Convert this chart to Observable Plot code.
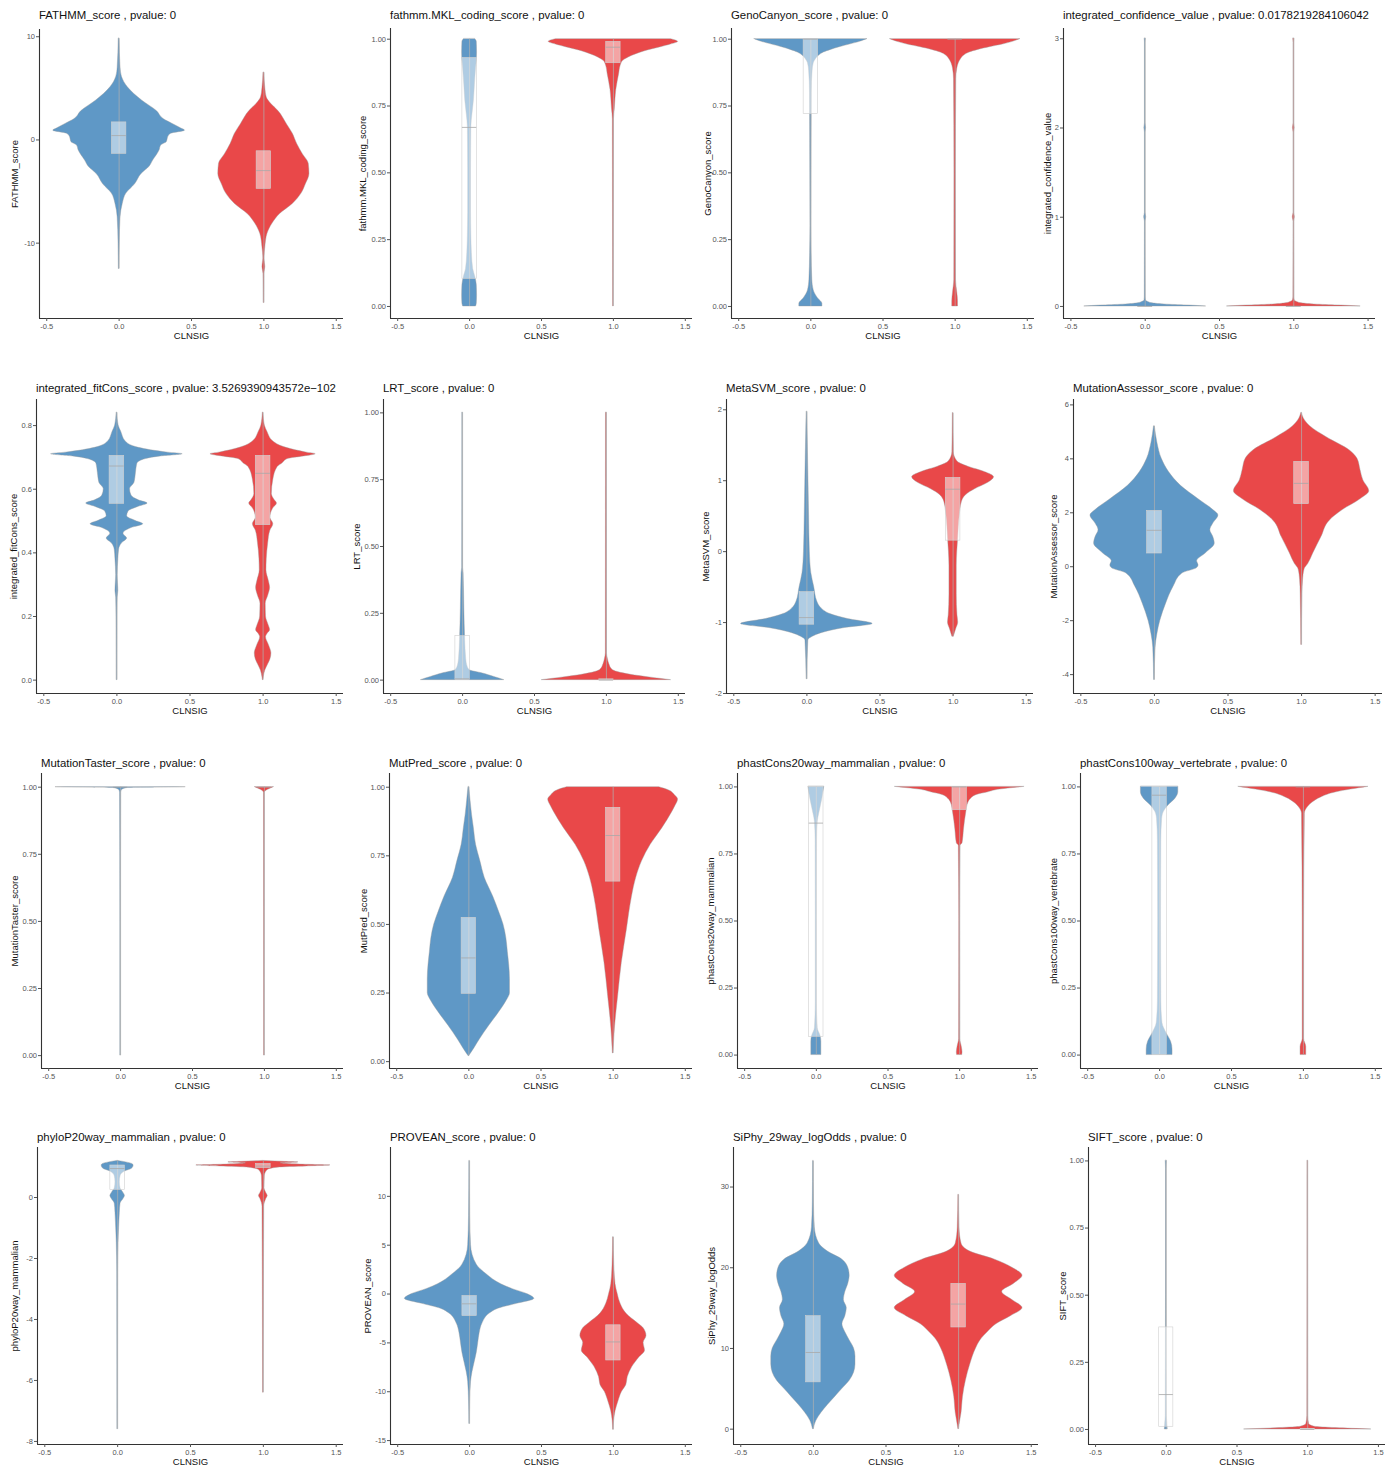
<!DOCTYPE html>
<html><head><meta charset="utf-8">
<script src="https://cdn.jsdelivr.net/npm/d3@7"></script>
<script src="https://cdn.jsdelivr.net/npm/@observablehq/plot@0.6"></script>
<style>
body{margin:0;background:#fff;font-family:"Liberation Sans",Arial,Helvetica,sans-serif;}
#wrap{position:relative;width:1398px;height:1470px;overflow:hidden;background:#fff;}
.ttl{position:absolute;font-size:11.4px;color:#111;white-space:nowrap;line-height:14px;}
.pnl{position:absolute;overflow:visible;}
</style></head><body><div id="wrap"></div>
<script>
// ---------------- DATA ----------------
const metrics = ["FATHMM_score","fathmm.MKL_coding_score","GenoCanyon_score","integrated_confidence_value",
  "integrated_fitCons_score","LRT_score","MetaSVM_score","MutationAssessor_score",
  "MutationTaster_score","MutPred_score","phastCons20way_mammalian","phastCons100way_vertebrate",
  "phyloP20way_mammalian","PROVEAN_score","SiPhy_29way_logOdds","SIFT_score"];
const pvalues = ["0","0","0","0.0178219284106042","3.5269390943572e\u2212102","0","0","0","0","0","0","0","0","0","0","0"];
const groups = [0, 1];               // CLNSIG
const groupColors = ["#377EB8", "#E41A1C"];

// violin outlines: [value, half-width]
const vFATHMM0 = [[9.8,0.003],[7,0.01],[6.1,0.02],[5.1,0.06],[3.8,0.16],[2.8,0.26],[2.0,0.31],[1.55,0.37],[1.1,0.43],[0.9,0.455],[0.6,0.36],[0.3,0.34],[-0.2,0.33],[-0.55,0.29],[-1.0,0.28],[-2.0,0.235],[-2.6,0.21],[-3.3,0.155],[-4.3,0.11],[-5.2,0.05],[-6.2,0.025],[-7.5,0.01],[-10,0.004],[-12.5,0.002]];
const vFATHMM1 = [[6.5,0.003],[5,0.01],[4.1,0.02],[3.5,0.05],[2.8,0.10],[1.5,0.16],[0.6,0.20],[-0.4,0.23],[-1.4,0.27],[-2.3,0.31],[-3.3,0.315],[-4.3,0.29],[-5.2,0.26],[-6.2,0.20],[-7.2,0.11],[-8.1,0.06],[-9.1,0.025],[-10.4,0.01],[-11.5,0.004],[-12.3,0.01],[-13,0.003],[-15.8,0.002]];
const vMKL0 = [[1.0,0.04],[0.99,0.05],[0.95,0.052],[0.92,0.05],[0.89,0.045],[0.83,0.037],[0.77,0.03],[0.72,0.02],[0.67,0.012],[0.52,0.01],[0.35,0.01],[0.27,0.012],[0.2,0.016],[0.14,0.025],[0.11,0.04],[0.08,0.05],[0.04,0.052],[0.01,0.05],[0.0,0.045]];
const vMKL1 = [[1.0,0.40],[0.99,0.45],[0.98,0.40],[0.97,0.33],[0.955,0.22],[0.944,0.16],[0.93,0.1],[0.92,0.07],[0.9,0.05],[0.87,0.04],[0.81,0.02],[0.74,0.01],[0.7,0.004],[0.4,0.003],[0.0,0.002]];
const vGeno0 = [[1.0,0.39],[0.99,0.34],[0.98,0.27],[0.97,0.20],[0.96,0.14],[0.95,0.09],[0.94,0.06],[0.925,0.035],[0.91,0.02],[0.88,0.012],[0.8,0.006],[0.5,0.004],[0.3,0.003],[0.2,0.005],[0.1,0.01],[0.06,0.02],[0.03,0.05],[0.01,0.08],[0.0,0.08]];
const vGeno1 = [[1.0,0.45],[0.99,0.40],[0.98,0.33],[0.97,0.24],[0.96,0.16],[0.95,0.10],[0.94,0.065],[0.925,0.04],[0.91,0.025],[0.89,0.015],[0.85,0.008],[0.5,0.005],[0.1,0.006],[0.05,0.015],[0.02,0.02],[0.0,0.02]];
const vConf0 = [[3.0,0.004],[2.95,0.002],[2.05,0.002],[2.0,0.006],[1.95,0.002],[1.05,0.002],[1.0,0.007],[0.95,0.002],[0.1,0.003],[0.07,0.005],[0.05,0.02],[0.035,0.05],[0.02,0.15],[0.01,0.3],[0.0,0.41]];
const vConf1 = [[3.0,0.004],[2.95,0.002],[2.05,0.002],[2.0,0.006],[1.95,0.002],[1.05,0.002],[1.0,0.007],[0.95,0.002],[0.1,0.003],[0.07,0.006],[0.05,0.022],[0.035,0.055],[0.02,0.16],[0.01,0.32],[0.0,0.45]];
const vFit0 = [[0.84,0.002],[0.8,0.012],[0.78,0.03],[0.75,0.06],[0.73,0.15],[0.715,0.35],[0.71,0.45],[0.703,0.3],[0.695,0.2],[0.68,0.14],[0.65,0.13],[0.62,0.12],[0.6,0.09],[0.58,0.10],[0.565,0.15],[0.555,0.21],[0.545,0.15],[0.53,0.08],[0.515,0.07],[0.5,0.13],[0.49,0.18],[0.478,0.1],[0.46,0.045],[0.445,0.07],[0.43,0.035],[0.41,0.015],[0.38,0.01],[0.33,0.005],[0.28,0.01],[0.26,0.005],[0.2,0.003],[0.0,0.002]];
const vFit1 = [[0.84,0.002],[0.8,0.012],[0.78,0.03],[0.75,0.07],[0.73,0.16],[0.715,0.3],[0.71,0.36],[0.703,0.28],[0.695,0.17],[0.68,0.13],[0.67,0.10],[0.63,0.07],[0.585,0.06],[0.565,0.08],[0.555,0.095],[0.54,0.07],[0.51,0.05],[0.49,0.07],[0.47,0.05],[0.43,0.035],[0.38,0.025],[0.345,0.023],[0.31,0.04],[0.29,0.048],[0.265,0.035],[0.24,0.018],[0.2,0.02],[0.17,0.04],[0.157,0.048],[0.145,0.03],[0.135,0.02],[0.11,0.04],[0.084,0.057],[0.065,0.05],[0.05,0.035],[0.03,0.015],[0.01,0.005],[0.0,0.002]];
const vLRT0 = [[1.0,0.002],[0.42,0.003],[0.4,0.007],[0.27,0.012],[0.15,0.018],[0.08,0.025],[0.05,0.035],[0.037,0.05],[0.025,0.14],[0.012,0.22],[0.0,0.29]];
const vLRT1 = [[1.0,0.003],[0.1,0.004],[0.08,0.01],[0.06,0.02],[0.04,0.04],[0.03,0.08],[0.02,0.17],[0.01,0.3],[0.0,0.45]];
const vSVM0 = [[1.97,0.002],[1.1,0.01],[0.5,0.015],[0.0,0.02],[-0.3,0.03],[-0.5,0.05],[-0.7,0.07],[-0.8,0.10],[-0.88,0.16],[-0.95,0.28],[-1.02,0.45],[-1.08,0.25],[-1.15,0.1],[-1.2,0.04],[-1.25,0.01],[-1.8,0.002]];
const vSVM1 = [[1.95,0.002],[1.4,0.005],[1.27,0.03],[1.2,0.10],[1.12,0.22],[1.05,0.28],[0.97,0.24],[0.88,0.15],[0.8,0.09],[0.7,0.06],[0.5,0.045],[0.2,0.035],[-0.2,0.025],[-0.6,0.025],[-0.9,0.03],[-1.0,0.035],[-1.1,0.02],[-1.2,0.005]];
const vMA0 = [[5.2,0.003],[4.6,0.02],[4.0,0.05],[3.5,0.1],[3.0,0.18],[2.5,0.3],[2.1,0.4],[1.9,0.435],[1.6,0.4],[1.35,0.38],[1.1,0.4],[0.86,0.41],[0.5,0.35],[0.2,0.29],[0.05,0.3],[-0.05,0.29],[-0.25,0.19],[-0.74,0.13],[-1.36,0.08],[-2.0,0.04],[-2.5,0.02],[-3.0,0.008],[-4.2,0.002]];
const vMA1 = [[5.7,0.002],[5.5,0.015],[5.2,0.06],[4.8,0.17],[4.3,0.33],[4.0,0.38],[3.6,0.40],[3.2,0.42],[2.8,0.46],[2.5,0.40],[2.1,0.28],[1.7,0.19],[1.1,0.135],[0.5,0.08],[0.1,0.045],[-0.1,0.02],[-0.5,0.01],[-1.0,0.006],[-2.9,0.002]];
const vMT0 = [[1.0,0.45],[0.999,0.3],[0.997,0.05],[0.99,0.012],[0.98,0.004],[0.5,0.002],[0.0,0.002]];
const vMT1 = [[1.0,0.065],[0.995,0.045],[0.99,0.025],[0.985,0.01],[0.98,0.003],[0.0,0.002]];
const vMP0 = [[1.0,0.003],[0.95,0.012],[0.9,0.022],[0.85,0.035],[0.79,0.05],[0.73,0.08],[0.67,0.11],[0.6,0.17],[0.545,0.21],[0.5,0.24],[0.45,0.26],[0.4,0.27],[0.35,0.28],[0.3,0.285],[0.25,0.285],[0.22,0.26],[0.18,0.21],[0.13,0.14],[0.08,0.075],[0.05,0.04],[0.03,0.015],[0.02,0.002]];
const vMP1 = [[1.0,0.32],[0.99,0.38],[0.97,0.43],[0.955,0.45],[0.93,0.43],[0.91,0.41],[0.85,0.34],[0.79,0.26],[0.73,0.2],[0.67,0.16],[0.6,0.13],[0.48,0.095],[0.36,0.06],[0.24,0.035],[0.12,0.012],[0.05,0.004],[0.03,0.002]];
const vPC20_0 = [[1.0,0.055],[0.95,0.04],[0.9,0.02],[0.87,0.01],[0.8,0.005],[0.5,0.004],[0.2,0.004],[0.1,0.01],[0.07,0.03],[0.05,0.035],[0.0,0.035]];
const vPC20_1 = [[1.0,0.45],[0.995,0.36],[0.99,0.28],[0.98,0.2],[0.97,0.12],[0.956,0.08],[0.94,0.06],[0.905,0.046],[0.84,0.03],[0.79,0.02],[0.78,0.006],[0.5,0.003],[0.06,0.004],[0.03,0.015],[0.01,0.02],[0.0,0.018]];
const vPC100_0 = [[1.0,0.13],[0.98,0.13],[0.956,0.11],[0.93,0.06],[0.907,0.03],[0.88,0.018],[0.8,0.012],[0.5,0.01],[0.2,0.012],[0.12,0.02],[0.08,0.05],[0.05,0.08],[0.02,0.09],[0.0,0.09]];
const vPC100_1 = [[1.0,0.45],[0.99,0.33],[0.98,0.23],[0.96,0.12],[0.94,0.06],[0.92,0.025],[0.9,0.01],[0.5,0.005],[0.06,0.005],[0.03,0.02],[0.0,0.02]];
const vPhyloP0 = [[1.2,0.003],[1.15,0.06],[1.1,0.10],[1.05,0.11],[0.95,0.10],[0.85,0.05],[0.7,0.02],[0.5,0.015],[0.3,0.02],[0.15,0.04],[0.05,0.05],[-0.05,0.04],[-0.2,0.02],[-0.5,0.015],[-1.0,0.01],[-1.5,0.006],[-2.5,0.003],[-7.6,0.002]];
const vPhyloP1 = [[1.2,0.003],[1.17,0.15],[1.15,0.24],[1.12,0.12],[1.08,0.25],[1.05,0.46],[1.02,0.3],[0.98,0.1],[0.9,0.03],[0.7,0.01],[0.3,0.008],[0.15,0.02],[0.05,0.03],[-0.05,0.02],[-0.3,0.006],[-6.4,0.002]];
const vPROV0 = [[13.6,0.002],[8,0.004],[5,0.01],[3,0.05],[2,0.12],[1,0.22],[0.5,0.3],[0,0.4],[-0.5,0.45],[-1,0.33],[-1.5,0.2],[-2,0.14],[-3,0.09],[-4,0.07],[-5,0.06],[-6,0.05],[-7,0.035],[-8,0.02],[-9,0.01],[-11,0.004],[-13.3,0.002]];
const vPROV1 = [[5.8,0.002],[3,0.006],[1,0.015],[0,0.03],[-1,0.05],[-2,0.09],[-3,0.17],[-3.5,0.21],[-4.3,0.23],[-5,0.21],[-5.8,0.22],[-6.5,0.18],[-7.5,0.13],[-8.5,0.1],[-9.3,0.09],[-10,0.06],[-11,0.035],[-12,0.015],[-13,0.005],[-13.9,0.002]];
const vSiPhy0 = [[33.2,0.002],[28,0.004],[25,0.01],[23,0.04],[22,0.1],[21,0.2],[20,0.24],[19,0.25],[18,0.24],[17,0.22],[16,0.21],[15,0.23],[14,0.22],[13,0.2],[12,0.22],[11,0.25],[10,0.28],[9,0.29],[8,0.29],[7,0.28],[6,0.25],[5,0.2],[4,0.15],[3,0.1],[2,0.055],[1,0.02],[0,0.003]];
const vSiPhy1 = [[29,0.002],[25,0.006],[23,0.02],[22,0.08],[21,0.25],[20,0.37],[19,0.44],[18,0.38],[17,0.3],[16,0.37],[15,0.44],[14,0.36],[13,0.26],[12,0.2],[11,0.15],[10,0.12],[8,0.08],[6,0.05],[4,0.03],[2,0.02],[0.5,0.006],[0,0.002]];
const vSIFT0 = [[1.0,0.004],[0.97,0.002],[0.5,0.002],[0.05,0.004],[0.02,0.008],[0.0,0.01]];
const vSIFT1 = [[1.0,0.002],[0.05,0.003],[0.02,0.01],[0.01,0.05],[0.005,0.2],[0.0,0.45]];

const violins = [[vFATHMM0,vFATHMM1],[vMKL0,vMKL1],[vGeno0,vGeno1],[vConf0,vConf1],
  [vFit0,vFit1],[vLRT0,vLRT1],[vSVM0,vSVM1],[vMA0,vMA1],
  [vMT0,vMT1],[vMP0,vMP1],[vPC20_0,vPC20_1],[vPC100_0,vPC100_1],
  [vPhyloP0,vPhyloP1],[vPROV0,vPROV1],[vSiPhy0,vSiPhy1],[vSIFT0,vSIFT1]];

// box stats [q1, median, q3]
const boxBenign = [[-1.35,0.42,1.7],[0.103,0.67,0.93],[0.72,1.0,1.0],[0,0,0],
  [0.554,0.673,0.705],[0,0.005,0.165],[-1.03,-0.93,-0.57],[0.49,1.35,2.07],
  [1.0,1.0,1.0],[0.247,0.378,0.524],[0.068,0.865,1.0],[0.0,0.969,1.0],
  [0.25,0.95,1.05],[-2.25,-1.0,-0.2],[5.8,9.5,14.0],[0.01,0.13,0.38]];
const boxPathogenic = [[-4.74,-2.97,-1.1],[0.91,0.97,0.99],[1.0,1.0,1.0],[0,0,0],
  [0.487,0.65,0.705],[0,0,0.003],[0.155,0.88,1.04],[2.32,3.09,3.89],
  [1.0,1.0,1.0],[0.656,0.824,0.925],[0.913,1.0,1.0],[1.0,1.0,1.0],
  [0.97,1.03,1.1],[-6.8,-4.9,-3.2],[12.6,15.5,18.0],[0,0,0.002]];

const xTickValues = [-0.5, 0, 0.5, 1, 1.5];
const xTickLabels = ["-0.5","0.0","0.5","1.0","1.5"];
const unitTicks = [0, 0.25, 0.5, 0.75, 1];
const unitLabels = ["0.00","0.25","0.50","0.75","1.00"];
const yTickValues = [[-10,0,10],unitTicks,unitTicks,[0,1,2,3],
  [0,0.2,0.4,0.6,0.8],unitTicks,[-2,-1,0,1,2],[-4,-2,0,2,4,6],
  unitTicks,unitTicks,unitTicks,unitTicks,
  [-8,-6,-4,-2,0],[-15,-10,-5,0,5,10],[0,10,20,30],unitTicks];
const yTickLabels = [["-10","0","10"],unitLabels,unitLabels,["0","1","2","3"],
  ["0.0","0.2","0.4","0.6","0.8"],unitLabels,["-2","-1","0","1","2"],["-4","-2","0","2","4","6"],
  unitLabels,unitLabels,unitLabels,unitLabels,
  ["-8","-6","-4","-2","0"],["-15","-10","-5","0","5","10"],["0","10","20","30"],unitLabels];
const yDomains = [[-17.3,10.7],[-0.045,1.04],[-0.045,1.04],[-0.135,3.115],
  [-0.042,0.882],[-0.05,1.05],[-2.0,2.145],[-4.7,6.2],
  [-0.048,1.051],[-0.025,1.05],[-0.05,1.05],[-0.05,1.05],
  [-8.1,1.64],[-15.4,15.0],[-1.9,34.9],[-0.056,1.05]];
const xDomain = [-0.55, 1.55];

// ---------------- LAYOUT (page pixels) ----------------
// [axisLeft, axisRight, plotTop, plotBottom, titleCenterY, yLabelCenterX]
const frames = [
  [39,343,29,318,15,14],[390,692,28,318,15,362],[731,1034,28,318,15,707],[1063,1375,28,318,15,1047],
  [36,343,399,693,388,13],[383,685,399,693,388,356],[726,1033,399,693,388,705],[1073,1382,399,693,388,1053],
  [41,343,773,1068,763,14],[389,692,773,1068,763,363],[737,1038,773,1068,763,710],[1080,1382,773,1068,763,1053],
  [37,343,1147,1444,1137,14],[390,692,1147,1444,1137,367],[733,1038,1147,1444,1137,711],[1088,1385,1147,1444,1137,1062]];

// ---------------- RENDER ----------------
const wrap = document.getElementById("wrap");
const FONT = '"Liberation Sans", Arial, Helvetica, sans-serif';
const xfmt = new Map(xTickValues.map((v, k) => [v, xTickLabels[k]]));

metrics.forEach((m, i) => {
  const [L, R, T, B, TY, YL] = frames[i];
  const mL = 34, mR = 8, mT = 8, mB = 40;
  const width = R - L + mL + mR, height = B - T + mT + mB;
  const vdata = [];
  groups.forEach((g, gi) => violins[i][gi].forEach(([y, w]) => vdata.push({g, y, x1: g - w, x2: g + w})));
  const bdata = groups.map((g, gi) => {
    const b = gi ? boxPathogenic[i] : boxBenign[i];
    return {g, q1: b[0], med: b[1], q3: b[2], x1: g - 0.05, x2: g + 0.05};
  });
  const rdata = groups.map((g, gi) => {
    const ys = violins[i][gi].map(d => d[0]);
    return {g, lo: d3.min(ys), hi: d3.max(ys)};
  });
  const yfmt = new Map(yTickValues[i].map((v, k) => [v, yTickLabels[i][k]]));

  const svg = Plot.plot({
    width, height, marginLeft: mL, marginRight: mR, marginTop: mT, marginBottom: mB,
    style: {fontFamily: FONT, background: "transparent", overflow: "visible"},
    x: {domain: xDomain, label: null},
    y: {domain: yDomains[i], label: null},
    color: {type: "ordinal", domain: groups, range: groupColors},
    marks: [
      Plot.areaX(vdata, {z: "g", y: "y", x1: "x1", x2: "x2", fill: "g", fillOpacity: 0.8,
        stroke: "#9a9a9a", strokeWidth: 0.45, strokeOpacity: 0.9, curve: "monotone-y"}),
      Plot.ruleX(rdata, {x: "g", y1: "lo", y2: "hi", stroke: "#b0b0b0", strokeWidth: 0.9, strokeOpacity: 0.8}),
      Plot.rect(bdata, {x1: "x1", x2: "x2", y1: "q1", y2: "q3", fill: "white", fillOpacity: 0.5,
        stroke: "#d0d0d0", strokeWidth: 0.6}),
      Plot.ruleY(bdata, {y: "med", x1: "x1", x2: "x2", stroke: "#a8a8a8", strokeWidth: 0.8}),
      Plot.ruleX([xDomain[0]], {stroke: "#333", strokeWidth: 1.1}),
      Plot.ruleY([yDomains[i][0]], {stroke: "#333", strokeWidth: 1.1}),
      Plot.axisX({ticks: xTickValues, tickFormat: d => xfmt.get(d), tickSize: 3, tickPadding: 2,
        fontSize: 7.5, color: "#555", label: null}),
      Plot.axisY({ticks: yTickValues[i], tickFormat: d => yfmt.get(d), anchor: "left", tickSize: 3,
        tickPadding: 1.5, fontSize: 7.5, color: "#555", label: null}),
      Plot.text([m], {text: d => d, frameAnchor: "left", textAnchor: "middle", dx: YL - L, rotate: -90,
        fontSize: 9.5, fill: "#111"}),
      Plot.text(["CLNSIG"], {text: d => d, frameAnchor: "bottom", dy: 20, fontSize: 9.5, fill: "#111"})
    ]
  });
  svg.classList.add("pnl");
  svg.style.left = (L - mL) + "px";
  svg.style.top = (T - mT) + "px";
  wrap.appendChild(svg);

  const t = document.createElement("div");
  t.className = "ttl";
  t.textContent = `${m} , pvalue: ${pvalues[i]}`;
  t.style.left = L + "px";
  t.style.top = (TY - 7) + "px";
  wrap.appendChild(t);
});
</script>
</body></html>
